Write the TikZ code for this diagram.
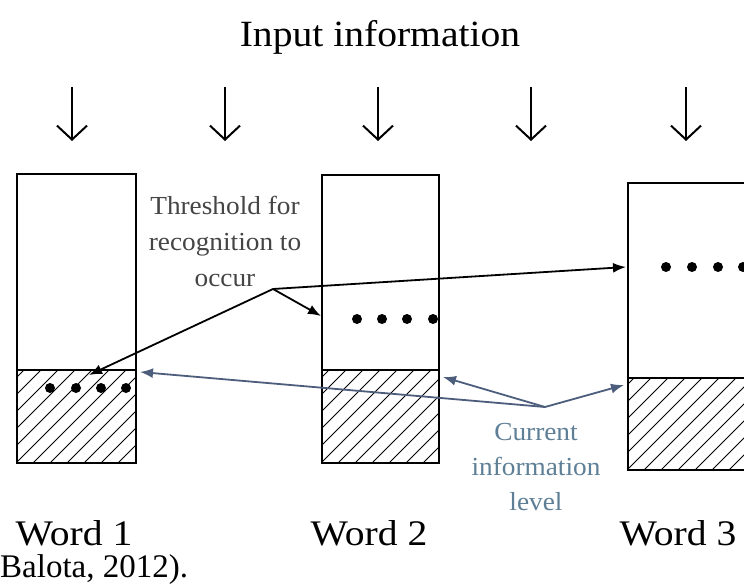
\documentclass[tikz,border=0pt]{standalone}
\usepackage{fontspec}
\setmainfont{Liberation Serif}
\usetikzlibrary{arrows.meta}
\definecolor{infoblue}{HTML}{4D5D7C}
\definecolor{labelblue}{HTML}{5E7F96}
\definecolor{labelgray}{HTML}{454545}

\tikzset{
  wordbox/.style={draw, line width=1.6pt, inner sep=0pt, outer sep=0pt},
  levelline/.style={line width=1.6pt},
  hatchline/.style={line width=1pt},
  inarrow/.style={line width=2pt, -{Straight Barb[length=14pt,width=30pt,line width=2pt]}},
  tharrow/.style={line width=1.8pt, -{Latex[length=13pt,width=10pt]}},
  lvarrow/.style={line width=1.8pt, draw=infoblue, -{Latex[length=13pt,width=10pt]}},
  dot/.style={circle, fill=black, minimum size=10pt, inner sep=0pt},
  titletext/.style={font=\fontsize{37}{42}\selectfont, anchor=base, inner sep=0pt},
  wordtext/.style={font=\fontsize{36}{40}\selectfont, anchor=base, inner sep=0pt, text depth=0pt},
  citetext/.style={font=\fontsize{33}{38}\selectfont, anchor=base west, inner sep=0pt, text height=22pt},
  smalltext/.style={font=\fontsize{26}{30}\selectfont, anchor=base, inner sep=0pt},
}

% diagonal hatching of a level region: left, top, right, bottom
\newcommand{\levelhatch}[4]{%
  \begin{scope}
    \clip (#1,#2) rectangle (#3,#4);
    \foreach \k in {-120,-103,...,140}
      \draw[hatchline] (#1+\k,#4) -- ++(130,-130);
  \end{scope}
  \draw[levelline] (#1,#2) -- (#3,#2);
}

\begin{document}
\begin{tikzpicture}[x=1pt,y=-1pt]
\clip (0,0) rectangle (744,585);
\fill[white] (0,0) rectangle (744,585);

% title and input arrows
\node[titletext] (title) at (380,47) {\scalebox{1.07}[1]{Input information}};
\foreach \i/\x in {1/72,2/225,3/378,4/531,5/686} {
  \coordinate (in\i top) at (\x,87);
  \coordinate (in\i bot) at (\x,141);
  \draw[inarrow] (in\i top) -- (in\i bot);
}

% word units: hatched activation level inside each box
\levelhatch{17}{370}{136}{463}
\levelhatch{322}{370}{439}{463}
\levelhatch{628}{378}{760}{470}
\node[wordbox, minimum width=119pt, minimum height=289pt] (w1) at (76.5,318.5) {};
\node[wordbox, minimum width=117pt, minimum height=288pt] (w2) at (380.5,319) {};
\node[wordbox, minimum width=130pt, minimum height=287pt] (w3) at (693,326.5) {};

% threshold dots
\foreach \j/\x in {1/50,2/76,3/101,4/126}
  \node[dot] (da\j) at (\x,388) {};
\foreach \j/\x in {1/357,2/382,3/407,4/433}
  \node[dot] (db\j) at (\x,319) {};
\foreach \j/\x in {1/666,2/692,3/718,4/743}
  \node[dot] (dc\j) at (\x,267) {};

% threshold label and its arrows
\node[smalltext, text=labelgray] (thrA) at (225,215) {\scalebox{1.05}[1]{Threshold for}};
\node[smalltext, text=labelgray] (thrB) at (225,251) {\scalebox{1.05}[1]{recognition to}};
\node[smalltext, text=labelgray] (thrC) at (225,287) {\scalebox{1.05}[1]{occur}};
\coordinate (thv) at (273,289);
\coordinate (t1) at (89,375);
\coordinate (t2) at (321,316);
\coordinate (t3) at (626,267);
\draw[tharrow] (thv) -- (t1);
\draw[tharrow] (thv) -- (t2);
\draw[tharrow] (thv) -- (t3);

% current information level label and its arrows
\node[smalltext, text=labelblue] (curA) at (536,440) {\scalebox{1.05}[1]{Current}};
\node[smalltext, text=labelblue] (curB) at (536,475) {\scalebox{1.05}[1]{information}};
\node[smalltext, text=labelblue] (curC) at (536,510) {\scalebox{1.05}[1]{level}};
\coordinate (lvv) at (545,407);
\coordinate (l1) at (140,372);
\coordinate (l2) at (443,377);
\coordinate (l3) at (624,385);
\draw[lvarrow] (lvv) -- (l1);
\draw[lvarrow] (lvv) -- (l2);
\draw[lvarrow] (lvv) -- (l3);

% word labels and citation
\node[wordtext] (lab1) at (74,545) {\scalebox{1.1}[1]{Word 1}};
\node[wordtext] (lab2) at (369,545) {\scalebox{1.1}[1]{Word 2}};
\node[wordtext] (lab3) at (678,545) {\scalebox{1.1}[1]{Word 3}};
\node[citetext] (cite) at (0,577) {Balota, 2012).};
\end{tikzpicture}
\end{document}
